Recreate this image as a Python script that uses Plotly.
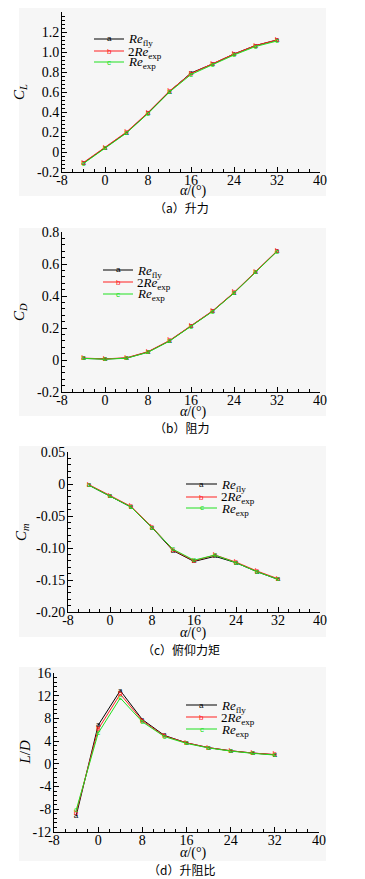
import plotly.graph_objects as go

PAGE_W, PAGE_H = 365, 879
OFF = 8  # default page body margin
W, H = PAGE_W - OFF, PAGE_H - OFF

alpha = [-4, 0, 4, 8, 12, 16, 20, 24, 28, 32]

# Lift coefficient
cl_fly = [-0.11, 0.04, 0.195, 0.39, 0.605, 0.79, 0.88, 0.98, 1.065, 1.12]
cl_2exp = [-0.105, 0.045, 0.2, 0.395, 0.61, 0.785, 0.88, 0.98, 1.065, 1.12]
cl_exp = [-0.115, 0.04, 0.19, 0.385, 0.6, 0.775, 0.87, 0.97, 1.055, 1.11]

# Drag coefficient
cd_fly = [0.01, 0.006, 0.012, 0.05, 0.12, 0.21, 0.305, 0.42, 0.55, 0.68]
cd_2exp = [0.012, 0.007, 0.014, 0.052, 0.122, 0.212, 0.307, 0.422, 0.552, 0.682]
cd_exp = [0.01, 0.005, 0.011, 0.048, 0.118, 0.208, 0.303, 0.418, 0.548, 0.678]

# Pitching moment coefficient
cm_fly = [-0.002, -0.019, -0.036, -0.068, -0.104, -0.121, -0.113, -0.123, -0.137, -0.149]
cm_2exp = [-0.001, -0.018, -0.035, -0.067, -0.103, -0.120, -0.111, -0.122, -0.136, -0.148]
cm_exp = [-0.002, -0.019, -0.036, -0.068, -0.102, -0.119, -0.111, -0.123, -0.137, -0.149]

# Lift-to-drag ratio
ld_fly = [-9.2, 6.8, 12.9, 7.8, 5.0, 3.7, 2.85, 2.3, 1.9, 1.6]
ld_2exp = [-8.6, 6.1, 12.3, 7.6, 4.9, 3.7, 2.85, 2.3, 1.9, 1.65]
ld_exp = [-8.2, 5.4, 11.6, 7.4, 4.8, 3.6, 2.8, 2.25, 1.85, 1.55]

x_ticks = [-8, 0, 8, 16, 24, 32, 40]
x_ticktext = ["-8", "0", "8", "16", "24", "32", "40"]

cl_ticks = [-0.2, 0, 0.2, 0.4, 0.6, 0.8, 1.0, 1.2, 1.4]
cl_ticktext = ["-0.2", "0", "0.2", "0.4", "0.6", "0.8", "1.0", "1.2", "1.4"]
cd_ticks = [-0.2, 0, 0.2, 0.4, 0.6, 0.8]
cd_ticktext = ["-0.2", "0", "0.2", "0.4", "0.6", "0.8"]
cm_ticks = [-0.20, -0.15, -0.10, -0.05, 0, 0.05]
cm_ticktext = ["-0.20", "-0.15", "-0.10", "-0.05", "0", "0.05"]
ld_ticks = [-12, -8, -4, 0, 4, 8, 12, 16]
ld_ticktext = ["-12", "-8", "-4", "0", "4", "8", "12", "16"]

series_names = ["<i>Re</i><sub>fly</sub>", "2<i>Re</i><sub>exp</sub>", "<i>Re</i><sub>exp</sub>"]
series_letters = ["a", "b", "c"]
series_colors = ["#000000", "#ff2020", "#20e020"]

captions = ["（a）升力", "（b）阻力", "（c）俯仰力矩", "（d）升阻比"]
ytitles = ["<i>C</i><sub><i>L</i></sub>", "<i>C</i><sub><i>D</i></sub>",
           "<i>C</i><sub><i>m</i></sub>", "<i>L</i>/<i>D</i>"]

SERIF = "Liberation Serif"
CJK = "Noto Sans CJK SC"

def px_x(p):
    return (p - OFF) / W

def px_y(p):
    return 1 - (p - OFF) / H

# panel geometry in page pixels
panels = [
    dict(l=62, r=320, t=12, b=172, data=[cl_fly, cl_2exp, cl_exp], yr=[-0.2, 1.4], yt=cl_ticks, ytt=cl_ticktext, ydt=0.2,
         bg=(19, 326, 8, 196), leg=(94, 124, [39, 51, 62]), ytx=20, xty=191, capy=207),
    dict(l=62, r=320, t=232, b=392, data=[cd_fly, cd_2exp, cd_exp], yr=[-0.2, 0.8], yt=cd_ticks, ytt=cd_ticktext, ydt=0.2,
         bg=(19, 326, 228, 416), leg=(103, 133, [270, 282, 294]), ytx=20, xty=412, capy=428),
    dict(l=68, r=320, t=452, b=612, data=[cm_fly, cm_2exp, cm_exp], yr=[-0.2, 0.05], yt=cm_ticks, ytt=cm_ticktext, ydt=0.05,
         bg=(19, 326, 446, 637), leg=(186, 217, [484, 497, 508]), ytx=22, xty=633, capy=649),
    dict(l=54, r=319, t=673, b=832, data=[ld_fly, ld_2exp, ld_exp], yr=[-12, 16], yt=ld_ticks, ytt=ld_ticktext, ydt=4,
         bg=(19, 326, 667, 861), leg=(186, 217, [705, 717, 729]), ytx=24, xty=853, capy=869),
]

fig = go.Figure()
shapes = []
annotations = []

for i, p in enumerate(panels):
    k = "" if i == 0 else str(i + 1)
    xa, ya = "x" + k, "y" + k
    for s in range(3):
        fig.add_trace(go.Scatter(
            x=alpha, y=p["data"][s], xaxis=xa, yaxis=ya,
            mode="lines+text", text=[series_letters[s]] * len(alpha),
            textposition="middle center",
            textfont=dict(family="Liberation Sans", size=8, color=series_colors[s]),
            line=dict(color=series_colors[s], width=1),
            showlegend=False, hoverinfo="skip"))
    axis_common = dict(showline=True, linecolor="black", linewidth=1, mirror=False,
                       ticks="inside", ticklen=5, tickwidth=1, tickcolor="black",
                       showgrid=False, zeroline=False, automargin=False,
                       tickfont=dict(family=SERIF, size=14, color="black"))
    fig.layout["xaxis" + k] = dict(
        domain=[px_x(p["l"]), px_x(p["r"])], anchor=ya, range=[-8, 40],
        tickmode="array", tickvals=x_ticks, ticktext=x_ticktext,
        minor=dict(ticks="inside", ticklen=3, dtick=2, tickcolor="black", showgrid=False),
        ticklabelstandoff=-5, **axis_common)
    fig.layout["yaxis" + k] = dict(
        domain=[px_y(p["b"]), px_y(p["t"])], anchor=xa, range=p["yr"],
        tickmode="array", tickvals=p["yt"], ticktext=p["ytt"],
        minor=dict(ticks="inside", ticklen=3, dtick=p["ydt"] / 5, tickcolor="black", showgrid=False),
        ticklabelstandoff=-1, **axis_common)

    bx0, bx1, by0, by1 = p["bg"]
    shapes.append(dict(type="rect", xref="paper", yref="paper", layer="below",
                       x0=px_x(bx0), x1=px_x(bx1), y0=px_y(by1), y1=px_y(by0),
                       fillcolor="#f6f6f6", line=dict(width=0)))

    lx0, lx1, lys = p["leg"]
    for s in range(3):
        shapes.append(dict(type="line", xref="paper", yref="paper",
                           x0=px_x(lx0), x1=px_x(lx1), y0=px_y(lys[s]), y1=px_y(lys[s]),
                           line=dict(color=series_colors[s], width=1)))
        annotations.append(dict(xref="paper", yref="paper", x=px_x((lx0 + lx1) / 2), y=px_y(lys[s]),
                                text=series_letters[s], showarrow=False, xanchor="center", yanchor="middle",
                                font=dict(family="Liberation Sans", size=8, color=series_colors[s])))
        annotations.append(dict(xref="paper", yref="paper", x=px_x(lx1 + 2), y=px_y(lys[s] + 1),
                                text=series_names[s], showarrow=False, xanchor="left", yanchor="middle",
                                font=dict(family=SERIF, size=13, color="black")))

    annotations.append(dict(xref="paper", yref="paper", x=px_x(p["ytx"]), y=px_y((p["t"] + p["b"]) / 2),
                            text=ytitles[i], showarrow=False, textangle=-90,
                            xanchor="center", yanchor="middle",
                            font=dict(family=SERIF, size=15, color="black")))
    annotations.append(dict(xref="paper", yref="paper", x=px_x(193), y=px_y(p["xty"]),
                            text="<i>α</i>/(°)", showarrow=False, xanchor="center", yanchor="middle",
                            font=dict(family=SERIF, size=14, color="black")))
    annotations.append(dict(xref="paper", yref="paper", x=px_x(181), y=px_y(p["capy"]),
                            text=captions[i], showarrow=False, xanchor="center", yanchor="middle",
                            font=dict(family=CJK, size=12, color="black")))

fig.update_layout(width=W, height=H, margin=dict(l=0, r=0, t=0, b=0, autoexpand=False),
                  paper_bgcolor="white", plot_bgcolor="rgba(0,0,0,0)",
                  shapes=shapes, annotations=annotations, showlegend=False)

fig.write_html("out.html")
